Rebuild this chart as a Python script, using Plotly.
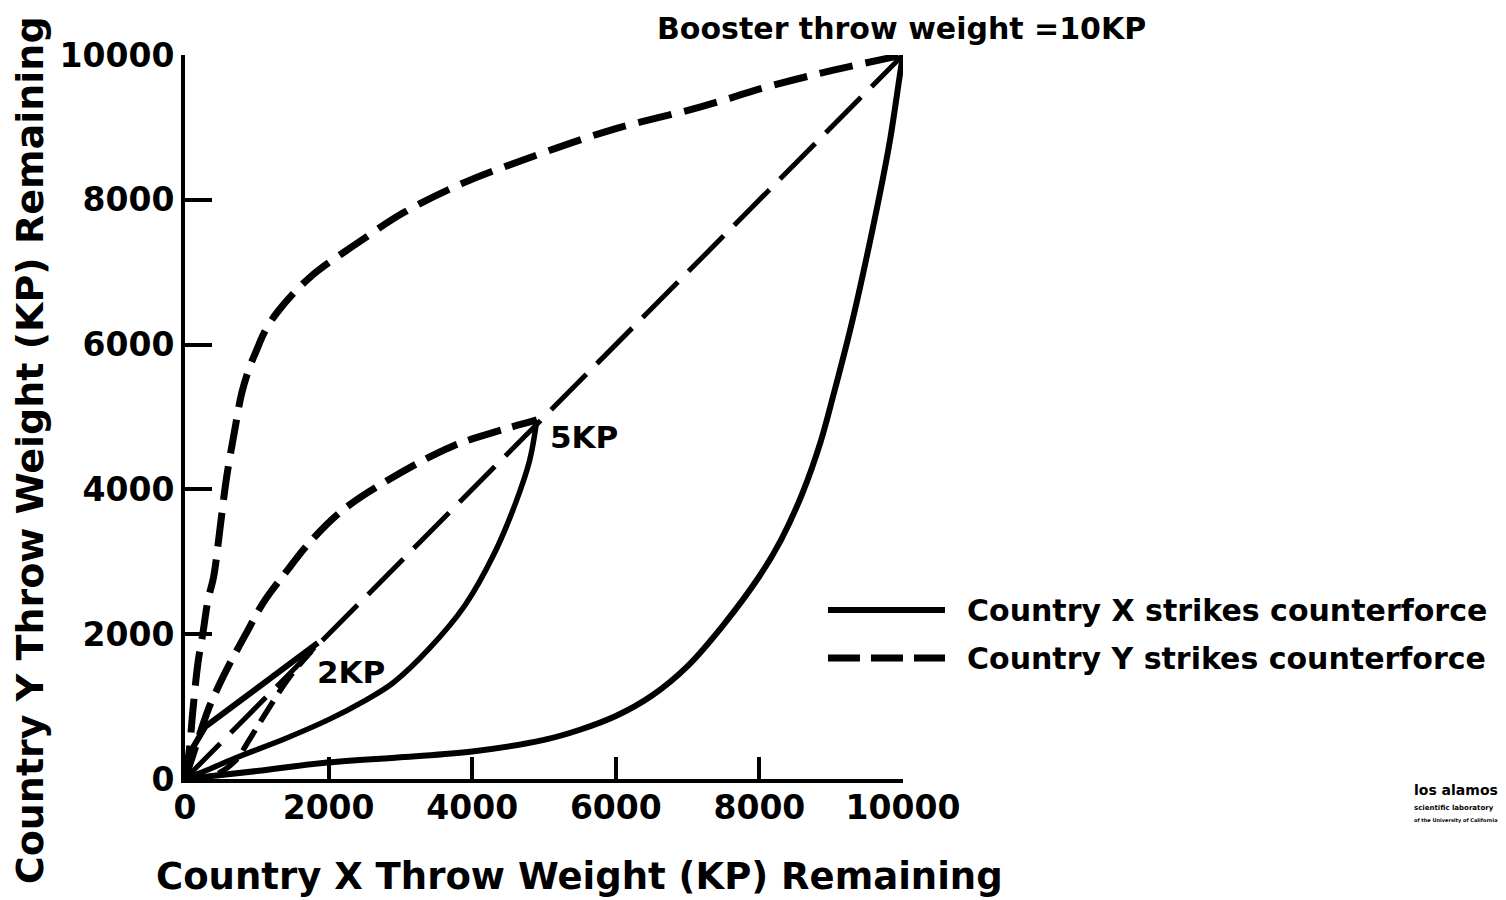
import plotly.graph_objects as go

# ---- data ----
tick_vals = [0, 2000, 4000, 6000, 8000, 10000]
tick_text = ["0", "2000", "4000", "6000", "8000", "10000"]

# Booster throw weight = 10 KP
x10_solid = [0, 1000, 1920, 3000, 4000, 5000, 5500, 6000, 6500, 7000, 7500, 8000, 8300, 8600, 8850, 9030, 9300, 9640, 9820, 9960, 10000]
y10_solid = [0, 110, 220, 300, 380, 540, 680, 870, 1150, 1560, 2130, 2800, 3300, 3950, 4650, 5300, 6350, 7900, 8830, 9750, 10000]
x10_dash = [0, 60, 110, 180, 250, 320, 400, 490, 580, 700, 790, 900, 1000, 1100, 1280, 1740, 2400, 3040, 3870, 4710, 5920, 7170, 8110, 9030, 10000]
y10_dash = [0, 400, 950, 1600, 2020, 2470, 2800, 3480, 4170, 4860, 5330, 5690, 5930, 6160, 6440, 6930, 7400, 7820, 8230, 8550, 8960, 9280, 9560, 9790, 10000]

# Booster throw weight = 5 KP
x5_solid = [0, 300, 700, 1400, 2000, 2500, 2900, 3400, 3900, 4300, 4600, 4800, 4900]
y5_solid = [0, 120, 290, 560, 820, 1080, 1330, 1800, 2400, 3100, 3800, 4400, 4960]
x5_dash = [0, 150, 320, 490, 600, 840, 1100, 1400, 1720, 2180, 2780, 3710, 4440, 4900]
y5_dash = [0, 450, 950, 1330, 1550, 1990, 2450, 2850, 3250, 3700, 4100, 4590, 4830, 4960]

# Booster throw weight = 2 KP
x2_solid = [0, 120, 280, 1850]
y2_solid = [0, 450, 720, 1880]
x2_dash = [0, 400, 700, 900, 1150, 1450, 1700, 1850]
y2_dash = [0, 50, 250, 550, 950, 1400, 1700, 1880]

# diagonal (dashed) through 2KP, 5KP to 10KP
x_diag = [0, 10000]
y_diag = [0, 10000]

FONT = "DejaVu Sans"
BLACK = "#000000"

fig = go.Figure()

def add(x, y, width, dash, shape="spline"):
    fig.add_trace(go.Scatter(
        x=x, y=y, mode="lines", showlegend=False, hoverinfo="skip",
        line=dict(color=BLACK, width=width, dash=dash, shape=shape, smoothing=1.0),
    ))

add(x_diag, y_diag, 5, "50px,15px", "linear")
add(x10_solid, y10_solid, 6, "solid")
add(x10_dash, y10_dash, 7, "34px,13px")
add(x5_solid, y5_solid, 5.5, "solid")
add(x5_dash, y5_dash, 7, "34px,12px")
add(x2_solid, y2_solid, 6, "solid", "linear")
add(x2_dash, y2_dash, 5.5, "24px,10px")

axis_common = dict(
    range=[0, 10000], tickvals=tick_vals, ticktext=tick_text, automargin=False,
    showgrid=False, zeroline=False, showline=True, linecolor=BLACK, linewidth=4,
    ticks="inside", tickcolor=BLACK, tickwidth=4,
    tickfont=dict(family=FONT, size=33, color=BLACK, weight="bold"),
)

# the page body adds an 8px offset, so margins are shifted by 8px
fig.update_layout(
    width=1506, height=900,
    margin=dict(l=177, r=611, t=47, b=129),
    paper_bgcolor="white", plot_bgcolor="white",
    xaxis=dict(**axis_common, ticklen=22, ticklabelstandoff=-4),
    yaxis=dict(**axis_common, ticklen=27),
    font=dict(family=FONT, color=BLACK),
)

def note(text, x, y, size, xref="paper", yref="paper", xanchor="center", yanchor="middle", angle=0):
    fig.add_annotation(text=text, x=x, y=y, xref=xref, yref=yref, showarrow=False,
                       xanchor=xanchor, yanchor=yanchor, textangle=angle,
                       font=dict(family=FONT, size=size, color=BLACK, weight="bold"))

# axis titles
note("Country X Throw Weight (KP) Remaining", 0.55, -0.134, 37)
note("Country Y Throw Weight (KP) Remaining", -0.216, 0.454, 38, angle=-90)

# curve labels
note("Booster throw weight =10KP", 0.9986, 1.037, 30)
note("5KP", 5060, 4720, 31, xref="x", yref="y", xanchor="left")
note("2KP", 1810, 1480, 31, xref="x", yref="y", xanchor="left")

# hand-drawn legend
fig.add_shape(type="line", xref="paper", yref="paper", x0=0.8955, x1=1.0585, y0=0.2334, y1=0.2334,
              line=dict(color=BLACK, width=6))
fig.add_shape(type="line", xref="paper", yref="paper", x0=0.8955, x1=1.0585, y0=0.1671, y1=0.1671,
              line=dict(color=BLACK, width=7, dash="32px,11px"))
note("Country X strikes counterforce", 1.0864, 0.2334, 30, xanchor="left")
note("Country Y strikes counterforce", 1.0864, 0.1671, 30, xanchor="left")

# laboratory logo
note("los alamos", 1.709, -0.015, 14, xanchor="left")
note("scientific laboratory", 1.709, -0.040, 7, xanchor="left")
note("of the University of California", 1.709, -0.057, 5, xanchor="left")

fig.write_html("out.html")
